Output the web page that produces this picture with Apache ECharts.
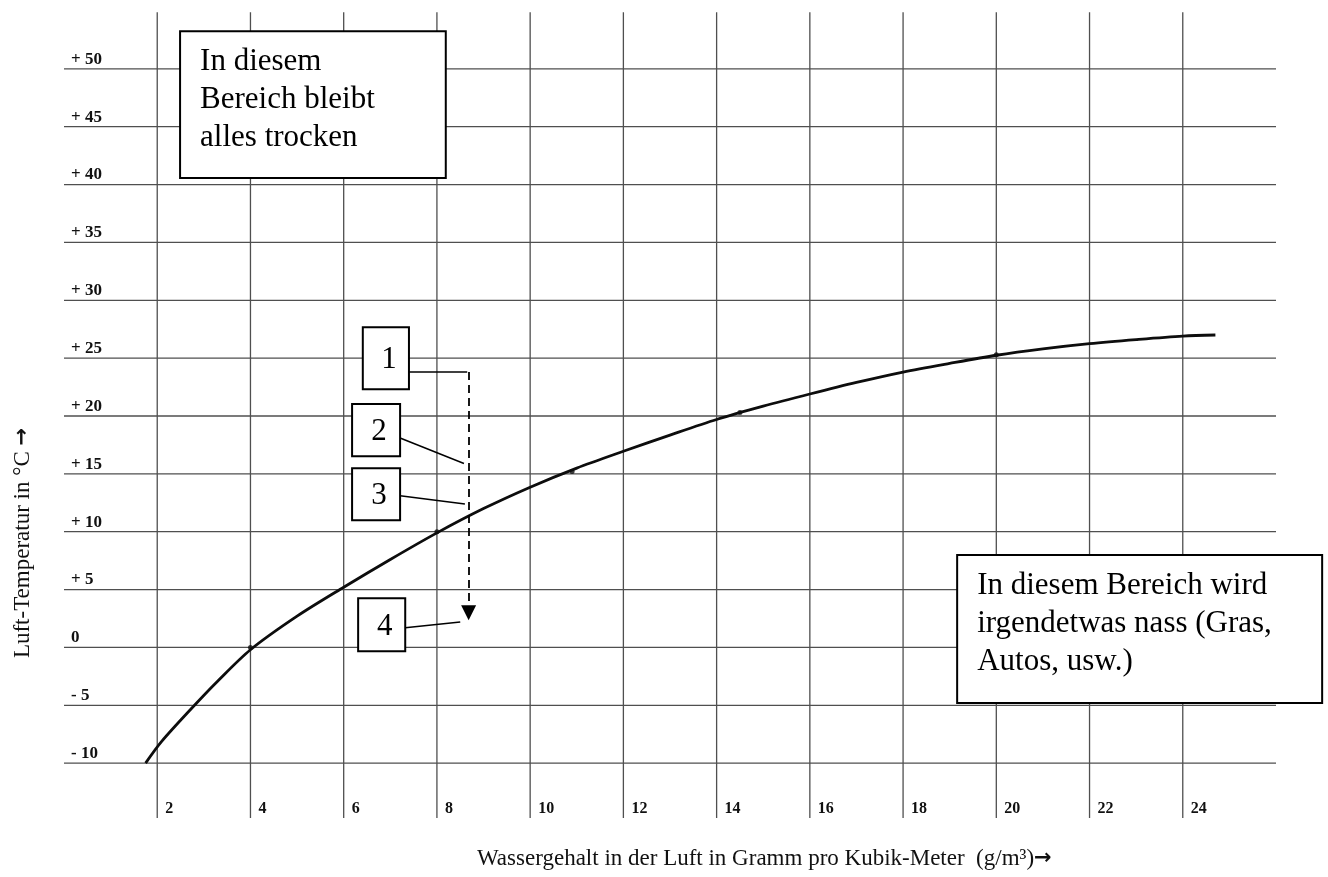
<!DOCTYPE html>
<html><head><meta charset="utf-8">
<script src="https://cdn.jsdelivr.net/npm/echarts@6/dist/echarts.min.js"></script>
<style>html,body{margin:0;padding:0;background:#fff}#c{width:1328px;height:877px}</style>
</head><body><div id="c"></div>
<script>
// ---- data ----
const curveX = [1.75, 2.1, 2.8, 3.3, 4.0, 5.0, 6.0, 7.0, 8.0, 9.0, 10.0, 11.0, 12.0, 13.0, 14.0, 15.0, 16.0, 17.0, 18.0, 19.0, 20.0, 21.0, 22.0, 23.0, 24.0, 24.7];
const curveY = [-10, -8.1, -5.0, -2.9, -0.2, 2.7, 5.2, 7.6, 9.9, 12.0, 13.85, 15.5, 16.95, 18.35, 19.7, 20.85, 21.9, 22.9, 23.8, 24.55, 25.25, 25.8, 26.25, 26.6, 26.9, 27.0];
const dotX = [4.0, 8.0, 10.9, 14.5, 20.0];
const dotY = [0.0, 10.0, 15.2, 20.3, 25.3];
const xTickValues = [2, 4, 6, 8, 10, 12, 14, 16, 18, 20, 22, 24];
const xTickLabels = ['2', '4', '6', '8', '10', '12', '14', '16', '18', '20', '22', '24'];
const yTickValues = [-10, -5, 0, 5, 10, 15, 20, 25, 30, 35, 40, 45, 50];
const yTickLabels = ['- 10', '- 5', '0', '+ 5', '+ 10', '+ 15', '+ 20', '+ 25', '+ 30', '+ 35', '+ 40', '+ 45', '+ 50'];
const xAxisTitle = 'Wassergehalt in der Luft in Gramm pro Kubik-Meter  (g/m³)';
const yAxisTitle = 'Luft-Temperatur in °C ';
const titleArrow = '→';
const boxTexts = ['In diesem\nBereich bleibt\nalles trocken', '1', '2', '3', '4', 'In diesem Bereich wird\nirgendetwas nass (Gras,\nAutos, usw.)'];

// ---- annotation layout (data coordinates) ----
const boxRects = [
  [2.49, 53.26, 8.19, 40.57],
  [6.41, 27.68, 7.40, 22.32],
  [6.18, 21.03, 7.21, 16.53],
  [6.18, 15.49, 7.21, 11.00],
  [6.31, 4.26, 7.32, -0.32],
  [19.16, 7.98, 26.99, -4.81]
];
const boxIsLabel = [false, true, true, true, true, false];
const arrowPath = [[8.68, 23.8], [8.68, 3.0]];
const leaderPaths = [
  [[7.40, 23.8], [8.65, 23.8]],
  [[7.21, 18.1], [8.58, 15.9]],
  [[7.21, 13.1], [8.60, 12.4]],
  [[7.32, 1.7], [8.50, 2.2]]
];
const X_MIN = 0, X_MAX = 26, Y_MIN = -15, Y_MAX = 55;
const SERIF = '"Liberation Serif", "Times New Roman", serif';
const GRID_COLOR = '#4f4f4f';

const chart = echarts.init(document.getElementById('c'), null, {renderer: 'canvas'});
const arrowRich = {ar: {fontFamily: '"DejaVu Sans"', fontWeight: 'bold', fontSize: 21, fill: '#111'}};
const option = {
  backgroundColor: '#ffffff',
  animation: false,
  grid: {left: 64, right: 52, top: 11, bottom: 56},
  xAxis: {
    type: 'value', min: X_MIN, max: X_MAX, interval: 2,
    axisLine: {show: false}, axisTick: {show: false}, splitLine: {show: false},
    axisLabel: {
      inside: true, margin: 4, align: 'left', padding: [0, 0, 0, 8],
      fontFamily: SERIF, fontWeight: 'bold', fontSize: 16, color: '#111',
      formatter: v => { const i = xTickValues.indexOf(v); return i >= 0 ? xTickLabels[i] : ''; }
    }
  },
  yAxis: {
    type: 'value', min: Y_MIN, max: Y_MAX, interval: 5,
    axisLine: {show: false}, axisTick: {show: false}, splitLine: {show: false},
    axisLabel: {
      inside: true, margin: 7, align: 'left', verticalAlign: 'bottom', padding: [0, 0, 1, 0],
      fontFamily: SERIF, fontWeight: 'bold', fontSize: 17, color: '#111',
      formatter: v => { const i = yTickValues.indexOf(v); return i >= 0 ? yTickLabels[i] : ''; }
    }
  },
  graphic: [
    {type: 'text', x: 23, y: 543, rotation: Math.PI / 2,
     style: {text: yAxisTitle + '{ar|' + titleArrow + '}', rich: arrowRich, font: '23px ' + SERIF, fill: '#111', align: 'center', verticalAlign: 'middle'}},
    {type: 'text', x: 477, y: 859,
     style: {text: xAxisTitle + '{ar|' + titleArrow + '}', rich: arrowRich, font: '23px ' + SERIF, fill: '#111', align: 'left', verticalAlign: 'middle'}}
  ],
  series: [
    {
      type: 'custom', name: 'hgrid', silent: true, clip: false, z: 1,
      data: yTickValues.map(v => [X_MIN, v]),
      renderItem: (params, api) => {
        const a = api.coord([X_MIN, api.value(1)]), b = api.coord([X_MAX, api.value(1)]);
        return {type: 'line', shape: {x1: a[0], y1: a[1], x2: b[0], y2: b[1]}, style: {stroke: GRID_COLOR, lineWidth: 1.3}};
      }
    },
    {
      type: 'custom', name: 'vgrid', silent: true, clip: false, z: 1,
      data: xTickValues.map(v => [v, Y_MIN]),
      renderItem: (params, api) => {
        const a = api.coord([api.value(0), -14.75]), b = api.coord([api.value(0), 54.9]);
        return {type: 'line', shape: {x1: a[0], y1: a[1], x2: b[0], y2: b[1]}, style: {stroke: GRID_COLOR, lineWidth: 1.3}};
      }
    },
    {
      type: 'line', name: 'curve', smooth: 0.3, showSymbol: false, z: 3,
      data: curveX.map((x, i) => [x, curveY[i]]),
      lineStyle: {color: '#0d0d0d', width: 2.8}
    },
    {
      type: 'scatter', name: 'dots', symbolSize: 5, z: 4,
      data: dotX.map((x, i) => [x, dotY[i]]),
      itemStyle: {color: '#0d0d0d'}
    },
    {
      type: 'lines', coordinateSystem: 'cartesian2d', z: 5, silent: true,
      symbol: ['none', 'triangle'], symbolSize: 15,
      lineStyle: {color: '#000', width: 1.8, type: [8, 5], opacity: 1},
      data: [{coords: arrowPath}]
    },
    {
      type: 'lines', coordinateSystem: 'cartesian2d', z: 5, silent: true,
      symbol: 'none',
      lineStyle: {color: '#000', width: 1.5, opacity: 1},
      data: leaderPaths.map(p => ({coords: p}))
    },
    {
      type: 'custom', name: 'boxes', silent: true, clip: false, z: 6,
      data: boxRects.map((r, i) => [r[0], r[1], i]),
      renderItem: (params, api) => {
        const i = params.dataIndex, r = boxRects[i];
        const a = api.coord([r[0], r[1]]), b = api.coord([r[2], r[3]]);
        const w = b[0] - a[0], h = b[1] - a[1];
        const text = boxIsLabel[i]
          ? {type: 'text', x: a[0] + w / 2 + 3, y: a[1] + h / 2 + 2,
             style: {text: boxTexts[i], font: '31px ' + SERIF, fill: '#000', align: 'center', verticalAlign: 'middle'}}
          : {type: 'text', x: a[0] + 20, y: a[1] + 12,
             style: {text: boxTexts[i], font: '31px ' + SERIF, fill: '#000', align: 'left', verticalAlign: 'top', lineHeight: 38}};
        return {type: 'group', children: [
          {type: 'rect', shape: {x: a[0], y: a[1], width: w, height: h}, style: {fill: '#fff', stroke: '#000', lineWidth: 2}},
          text
        ]};
      }
    }
  ]
};
chart.setOption(option);
</script>
</body></html>
